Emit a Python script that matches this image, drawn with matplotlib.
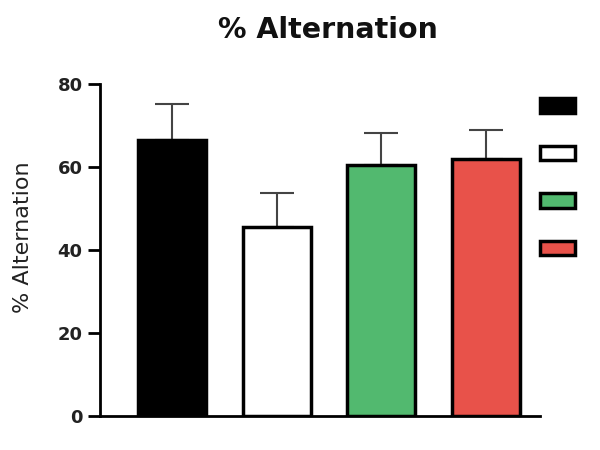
import numpy as np
import matplotlib
matplotlib.use("Agg")
import matplotlib.pyplot as plt
from matplotlib.patches import Patch

plt.rcParams['font.family'] = ['DejaVu Sans']

# data
groups = ['G1', 'G2', 'G3', 'G4']
means = [66.5, 45.5, 60.5, 62.0]
sems = [8.7, 8.2, 7.7, 7.0]
fills = ['#000000', '#ffffff', '#52b96f', '#e8524a']

fig = plt.figure(figsize=(6, 4.5), dpi=100)
ax = fig.add_axes([100/600, 34/450, 440/600, 332/450])

x = np.arange(len(groups))
ax.bar(x, means, width=0.65, color=fills, edgecolor='black', linewidth=2.5, zorder=2)
ax.errorbar(x, means, yerr=[np.zeros(len(sems)), sems], fmt='none',
            ecolor='#444444', elinewidth=1.5, capsize=12.5, capthick=1.5, zorder=1)

ax.set_xlim(-0.69, 3.52)
ax.set_ylim(0, 80)
ax.set_yticks([0, 20, 40, 60, 80])
ax.set_xticks([])
ax.spines['top'].set_visible(False)
ax.spines['right'].set_visible(False)
ax.spines['left'].set_linewidth(2)
ax.spines['bottom'].set_linewidth(2)
ax.tick_params(axis='y', length=9, width=2, labelsize=13, pad=3.5)
for lab in ax.get_yticklabels():
    lab.set_fontweight('bold')
    lab.set_color('#222222')
ax.set_ylabel('% Alternation', fontsize=16, color='#222222')
ax.yaxis.set_label_coords(-0.152, 0.54)
fig.text(328/600, 1 - 30/450, '% Alternation', ha='center', va='center',
         fontsize=20.5, fontweight='bold', color='#111111')

handles = [Patch(facecolor=c, edgecolor='black', linewidth=2.5) for c in fills]
fig.legend(handles, ['', '', '', ''], loc='upper left', bbox_to_anchor=(540/600, 1 - 97/450),
           frameon=False, fontsize=12, handlelength=2.1, handleheight=0.96,
           labelspacing=1.77, handletextpad=0, borderpad=0, borderaxespad=0)

fig.savefig('out.png', dpi=100)
